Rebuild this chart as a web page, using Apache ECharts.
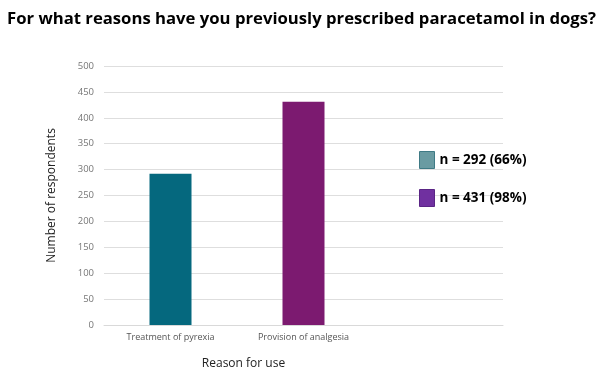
<!DOCTYPE html>
<html>
<head>
    <meta charset="utf-8">
    <title>Paracetamol in dogs</title>
</head>
<body style="margin:0;background:#fff;">
    <div id="main" style="width: 600px;height:375px;"></div>
<script src="https://cdn.jsdelivr.net/npm/echarts@6/dist/echarts.min.js"></script>
<script>
// data
var categories = ['Treatment of pyrexia', 'Provision of analgesia', ''];
var pyrexia = [292, '-', '-'];
var analgesia = ['-', 431, '-'];
var legendNames = ['n = 292 (66%)', 'n = 431 (98%)'];

var myChart = echarts.init(document.getElementById('main'));

myChart.setOption({
    animation: false,
    title: {
        text: 'For what reasons have you previously prescribed paracetamol in dogs?',
        left: 2,
        top: 6,
        textStyle: {
            fontFamily: 'Open Sans',
            fontWeight: 'bold',
            fontSize: 16.7,
            color: '#000'
        }
    },
    legend: {
        orient: 'vertical',
        left: 414,
        top: 146,
        icon: 'rect',
        itemWidth: 15,
        itemHeight: 17,
        itemGap: 20,
        textStyle: {
            fontFamily: 'Open Sans',
            fontWeight: 'bold',
            fontSize: 13.5,
            color: '#000'
        },
        data: [
            { name: legendNames[0], itemStyle: { color: '#6a9ba2', borderColor: '#3f7a85', borderWidth: 1 } },
            { name: legendNames[1], itemStyle: { color: '#7030a0', borderColor: '#5a2585', borderWidth: 1 } }
        ]
    },
    grid: {
        left: 104,
        right: 97,
        top: 66,
        bottom: 49
    },
    xAxis: {
        type: 'category',
        data: categories,
        name: 'Reason for use',
        nameLocation: 'middle',
        nameGap: 33,
        nameTextStyle: {
            fontFamily: 'Open Sans',
            fontSize: 12,
            color: '#222',
            padding: [0, 120, 0, 0]
        },
        axisLine: { lineStyle: { color: '#d9d9d9' } },
        axisTick: { show: false },
        axisLabel: {
            fontFamily: 'Open Sans',
            fontSize: 9,
            color: '#555',
            margin: 8
        }
    },
    yAxis: {
        type: 'value',
        min: 0,
        max: 500,
        interval: 50,
        name: 'Number of respondents',
        nameLocation: 'middle',
        nameGap: 46,
        nameTextStyle: {
            fontFamily: 'Open Sans',
            fontSize: 12,
            color: '#222'
        },
        axisLine: { show: false },
        axisTick: { show: false },
        axisLabel: {
            fontFamily: 'Open Sans',
            fontSize: 9.5,
            color: '#777',
            margin: 10
        },
        splitLine: { lineStyle: { color: '#dedede' } }
    },
    series: [
        {
            name: legendNames[0],
            type: 'bar',
            data: pyrexia,
            barWidth: 42,
            barGap: '-100%',
            itemStyle: { color: '#05687e' }
        },
        {
            name: legendNames[1],
            type: 'bar',
            data: analgesia,
            barWidth: 42,
            itemStyle: { color: '#7c1a70' }
        }
    ]
});
</script>
</body>
</html>
